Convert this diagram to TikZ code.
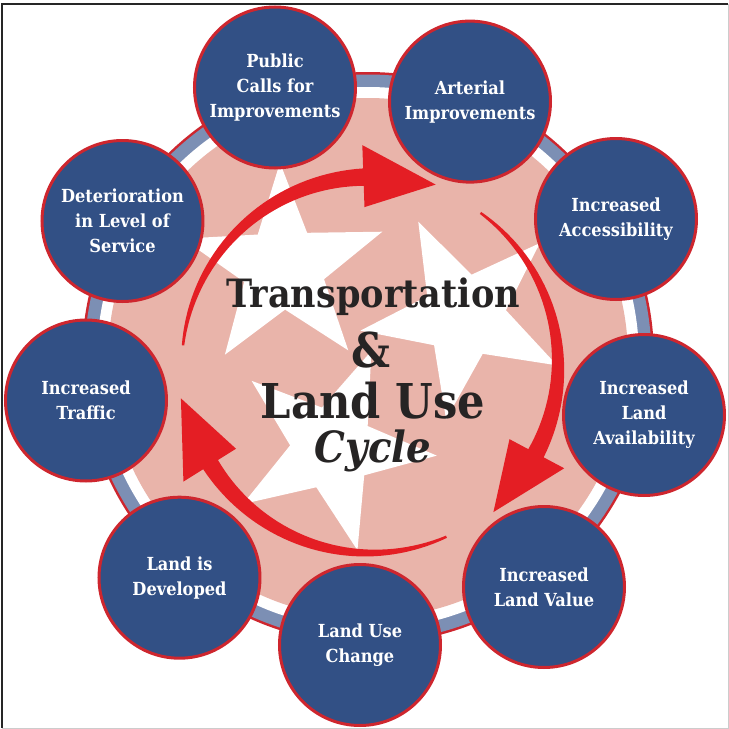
\documentclass[tikz,border=0pt]{standalone}
\usepackage{fontspec}
\setmainfont{DejaVu Serif}[FakeStretch=0.9]
\usetikzlibrary{shapes.geometric}

\definecolor{stageblue}{RGB}{50,80,133}
\definecolor{rimred}{RGB}{206,38,46}
\definecolor{arrowred}{RGB}{228,30,36}
\definecolor{discpink}{RGB}{233,180,170}
\definecolor{bandblue}{RGB}{124,143,180}
\definecolor{titlegray}{RGB}{38,36,36}

\begin{document}
\begin{tikzpicture}[x=1pt, y=1pt,
stage/.style={circle, draw=rimred, line width=3pt, fill=stageblue, minimum size=161pt, inner sep=0pt,
  align=center, text=white, font=\bfseries\fontsize{18}{25}\selectfont},
tristar/.style={star, star points=5, star point ratio=2.5, fill=white, minimum size=210pt, inner sep=0pt},
headline/.style={anchor=base, text=titlegray, font=\bfseries\fontsize{#1}{#1}\selectfont}
]
\useasboundingbox (-368,-371) rectangle (361,358);
\draw[line width=1.5pt, black!85] (-366,-370) -- (-366,354) -- (360,354);
\draw[line width=1pt, black!20] (360,354) -- (360,-370) -- (-366,-370);

% the ring and the disc inside it
\fill[rimred] (0,0) circle (286);
\fill[bandblue] (0,0) circle (283.5);
\fill[white] (0,0) circle (271);
\fill[discpink] (0,0) circle (260);

\begin{scope}[shift={(-8,14)}]
\node[tristar, rotate=2] (starnw) at (135:108) {};
\node[tristar, rotate=-118] (stare) at (15:108) {};
\node[tristar, rotate=-238] (stars) at (255:108) {};
\end{scope}

% three tapered arrows going round
\foreach \t in {174,54,-66}
  \fill[arrowred, shift={(2,-7)}]
    plot[domain=\t:\t-82, samples=40] (\x:{189.2+7.5*(\t-(\x))/82})
    -- (\t-82:220) -- (\t-104:192) -- (\t-82:158)
    -- plot[domain=\t-82:\t, samples=40] (\x:{186.8-7.5*(\t-(\x))/82}) -- cycle;

\node[headline=39] (trans) at (5,51) {Transportation};
\node[headline=48] (amp) at (3,-9) {\&};
\node[headline=48] (landuse) at (5,-60) {Land Use};
\node[headline=43] (cycle) at (5,-104) {\itshape Cycle};

\node[stage] (calls) at (-93,270.5) {Public\\Calls for\\Improvements};
\node[stage] (arterial) at (102,256.4) {Arterial\\Improvements};
\node[stage] (access) at (248,139) {Increased\\Accessibility};
\node[stage] (avail) at (276,-57) {Increased\\Land\\Availability};
\node[stage] (value) at (176,-229) {Increased\\Land Value};
\node[stage] (change) at (-8,-287) {Land Use\\Change};
\node[stage] (developed) at (-188.5,-219.7) {Land is\\Developed};
\node[stage] (traffic) at (-282,-42.5) {Increased\\Traffic};
\node[stage] (service) at (-245.5,137) {Deterioration\\in Level of\\Service};
\end{tikzpicture}
\end{document}
